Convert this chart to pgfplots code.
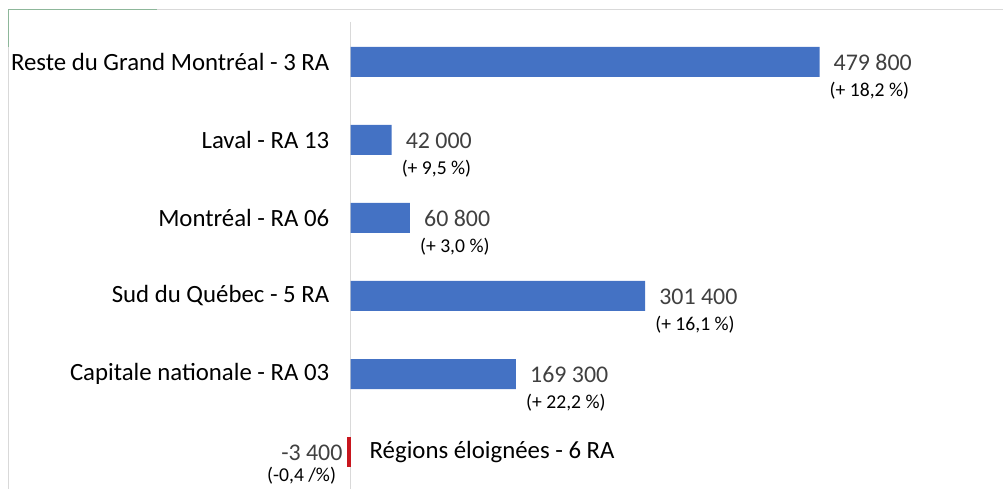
\documentclass[border=0pt]{standalone}
\usepackage{pgfplots}
\pgfplotsset{compat=1.18}
\usepackage{pgfplotstable}
\usepackage{fontspec}
\setmainfont{Carlito}
\definecolor{barblue}{HTML}{4472C4}
\definecolor{barred}{HTML}{C8161E}
\definecolor{numgray}{HTML}{404040}
\definecolor{axgray}{HTML}{D9D9D9}
\definecolor{selgreen}{HTML}{8DB79A}

\pgfplotstableread[col sep=semicolon]{
y;x;pct
0;479800;+ 18,2
1;42000;+ 9,5
2;60800;+ 3,0
3;301400;+ 16,1
4;169300;+ 22,2
}\pos

\pgfplotstableread[col sep=semicolon]{
y;x;pct
5;-3400;-0,4 /
}\neg

\begin{document}
\begin{tikzpicture}
\path[use as bounding box] (0,0) rectangle (1003bp,489bp);
\draw[axgray, line width=1bp] (8bp,0) -- (8bp,479bp) -- (1003bp,479bp);
\draw[selgreen, line width=1bp] (8bp,442bp) -- (8bp,479bp) -- (157bp,479bp);
\begin{axis}[
  at={(350.5bp,0bp)}, anchor=south west,
  scale only axis, width=652bp, height=467bp,
  xmin=0, xmax=667000,
  ymin=-0.5128, ymax=5.4744, y dir=reverse,
  axis x line=none,
  axis y line*=left,
  y axis line style={draw=axgray, line width=1.6bp},
  ytick={0,1,2,3,4},
  yticklabels={Reste du Grand Montréal - 3 RA, Laval - RA 13, Montréal - RA 06, Sud du Québec - 5 RA, Capitale nationale - RA 03},
  major tick length=0pt,
  yticklabel style={font=\fontsize{24.9}{26}\selectfont, inner sep=0pt, xshift=-21bp, text=black},
  extra y ticks={5},
  extra y tick labels={Régions éloignées - 6 RA},
  extra y tick style={yticklabel style={anchor=west, xshift=40bp}},
  clip=false,
]
% bars with values
\addplot[xbar, bar width=30bp, fill=barblue, draw=none, bar shift=0pt,
  point meta=x,
  nodes near coords={\pgfmathprintnumber[fixed, precision=0, 1000 sep={\ }, assume math mode=true]{\pgfplotspointmeta}},
  every node near coord/.append style={anchor=west, inner sep=0pt, xshift=14bp, yshift=-0.5bp, font=\fontsize{24}{26}\selectfont, text=numgray},
] table[x=x, y=y] {\pos};
% percentage labels
\addplot[xbar, bar width=30bp, fill=none, draw=none, bar shift=0pt,
  point meta=explicit symbolic,
  nodes near coords={(\pgfplotspointmeta\ \%)},
  every node near coord/.append style={anchor=west, inner sep=0pt, xshift=10bp, yshift=-29bp, font=\fontsize{19.7}{21}\selectfont, text=black},
] table[x=x, y=y, meta=pct] {\pos};
% negative bar
\addplot[xbar, bar width=30bp, fill=barred, draw=none, bar shift=0pt,
  point meta=x,
  nodes near coords={-3\ 400},
  every node near coord/.append style={anchor=east, inner sep=0pt, xshift=-4.5bp, yshift=-0.5bp, font=\fontsize{24}{26}\selectfont, text=numgray},
] table[x=x, y=y] {\neg};
\addplot[xbar, bar width=30bp, fill=none, draw=none, bar shift=0pt,
  point meta=explicit symbolic,
  nodes near coords={(\pgfplotspointmeta\%)},
  every node near coord/.append style={anchor=east, inner sep=0pt, xshift=-11bp, yshift=-24bp, font=\fontsize{19.7}{21}\selectfont, text=black},
] table[x=x, y=y, meta=pct] {\neg};
\end{axis}
\end{tikzpicture}
\end{document}
